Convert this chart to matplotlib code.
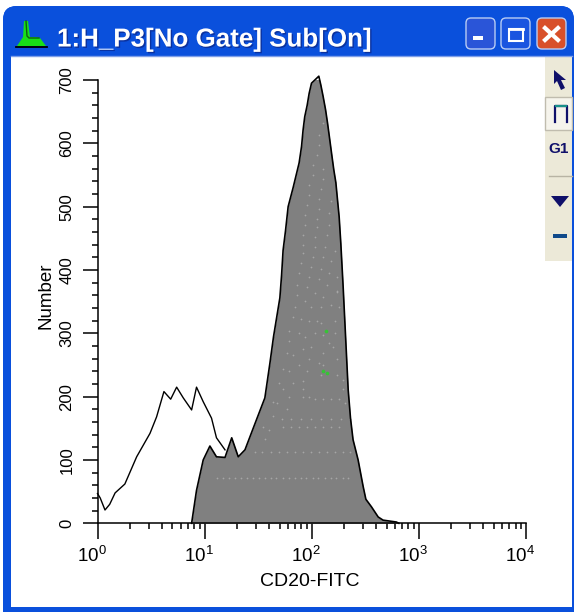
import matplotlib
matplotlib.use('Agg')
import matplotlib.pyplot as plt
import matplotlib.patheffects as pe
from matplotlib.patches import FancyBboxPatch, Rectangle, Polygon
from matplotlib.transforms import ScaledTranslation
import numpy as np

#Histogram values
open_x = [1.0, 1.06, 1.175, 1.3, 1.46, 1.8, 2.32, 3.09, 3.56, 4.17, 4.82, 5.48, 6.32, 7.56, 8.4, 9.7, 11.6, 12.9, 15.5]
open_y = [47, 40, 21, 30, 48, 62, 105, 142, 168, 208, 196, 215, 198, 179, 215, 192, 166, 135, 116]

fill_x = [7.56, 8.4, 9.7, 11.2, 12.9, 15.5, 17.9, 20.6, 23.8, 28.4, 36.5, 40.7, 44, 50.4, 52.3, 54, 56.9, 60.2, 67, 76.2,
          80.3, 83, 86, 90.6, 94.6, 99.5, 116.4, 121.6, 127.7, 134.6, 140.4, 147.5, 152.9, 160.7, 167.9, 173.9, 180.2,
          186.8, 196.3, 218.8, 230, 243, 271, 302, 320, 361, 417, 463, 617, 650]
fill_y = [0, 52, 100, 122, 105, 104, 135, 105, 116, 150, 198, 253, 295, 356, 392, 431, 462, 500, 530, 569,
          595, 621, 642, 660, 679, 695, 706, 692, 674, 653, 632, 605, 585, 558, 538, 511, 484,
          442, 374, 211, 166, 132, 100, 58, 38, 26, 10, 5, 2, 0]

#Faint dots inside the filled area (log10 of x, count)
dots_logx = [1.12, 1.17, 1.23, 1.28, 1.34, 1.40, 1.45, 1.51, 1.56, 1.62, 1.67, 1.73, 1.79, 1.84, 1.90, 1.95, 2.01, 2.06,
             2.12, 2.18, 2.23, 2.29, 2.34,
             1.47, 1.54, 1.62, 1.69, 1.77, 1.84, 1.92, 1.99, 2.07, 2.14, 2.22, 2.29, 2.36,
             1.73, 1.805, 1.88, 1.955, 2.03, 2.105, 2.18, 2.255,
             1.72, 1.81, 1.90, 1.99, 2.09, 2.18, 2.27, 2.36,
             1.640, 1.678, 1.771, 1.640, 1.547, 1.603, 1.566, 1.790, 1.920, 1.976, 2.032, 2.107, 2.181, 2.256, 2.309,
             1.734, 1.920, 2.293, 1.696, 1.827, 1.920, 2.293, 1.734, 1.790, 1.883, 1.958, 2.088, 2.237, 2.069, 2.107,
             2.237, 1.976, 1.771, 1.827, 1.920, 1.995, 2.107, 2.200, 2.163, 1.790, 1.939, 1.790, 1.883, 2.032, 2.219,
             2.107, 1.827, 1.902, 1.976, 2.051, 2.088, 2.219, 1.846, 1.995, 2.088, 2.181, 2.256, 1.939, 1.864, 2.032,
             2.107, 2.237,
             2.107, 2.069, 2.069, 2.051, 2.014, 2.107, 2.014, 2.107, 1.976, 2.088, 1.976, 2.069, 2.181, 1.958, 2.069,
             2.163, 1.939, 2.051, 1.939, 2.051, 2.163, 1.920, 2.032, 2.144, 1.920, 2.032, 2.125, 2.219, 1.920, 2.014,
             2.107, 2.181, 1.902, 1.995, 2.088, 1.883, 1.976, 2.069, 2.163, 2.237, 1.864, 1.958, 2.144, 2.237]
dots_y = [72] * 23 + [113] * 13 + [152] * 8 + [165] * 8 + [
          192, 190, 180, 170, 152, 148, 133, 199, 199, 199, 196, 196, 196, 196, 190,
          212, 212, 212, 221, 221, 224, 227, 243, 240, 250, 240, 234, 234, 253, 250,
          259, 259, 269, 265, 275, 278, 269, 278, 284, 288, 294, 303, 300, 300, 300,
          297, 325, 322, 319, 319, 316, 319, 341, 341, 341, 344, 341, 351, 360, 363,
          357, 367,
          632, 613, 597, 581, 565, 559, 550, 543, 534, 528, 518, 512, 509, 502, 496,
          490, 487, 480, 471, 468, 471, 455, 452, 455, 439, 436, 436, 430, 427, 420,
          420, 414, 411, 404, 401, 395, 389, 385, 395, 389, 376, 373, 376, 366]
green_logx = [2.129, 2.107, 2.144]
green_y = [303, 240, 237]

x_major = [1, 10, 100, 1000, 10000]
x_labels = ['10^{0}', '10^{1}', '10^{2}', '10^{3}', '10^{4}']
y_major = [0, 100, 200, 300, 400, 500, 600, 700]
title = '1:H_P3[No Gate] Sub[On]'

W, H = 574, 612
plt.rcParams['font.family'] = 'Liberation Sans'
plt.rcParams['mathtext.fontset'] = 'custom'
plt.rcParams['mathtext.rm'] = 'Liberation Sans'
plt.rcParams['mathtext.default'] = 'rm'

fig = plt.figure(figsize=(W / 100, H / 100), dpi=100, facecolor='white')

#Window frame, in pixels
bg = fig.add_axes([0, 0, 1, 1])
bg.set_axis_off()
frame = FancyBboxPatch((3, 6), W - 3, H, boxstyle='round,pad=0,rounding_size=14', fc='#0a50dc', ec='none')
bg.add_patch(frame)
grad = np.array([[0.03, 0.33, 0.88], [0.12, 0.42, 0.96], [0.0, 0.36, 0.93], [0.0, 0.33, 0.90], [0.0, 0.30, 0.84], [0.02, 0.27, 0.76]])
im = bg.imshow(grad[:, None, :], extent=[3, W, 56, 6], aspect='auto', interpolation='bilinear')
im.set_clip_path(frame)
bg.add_patch(Rectangle((3, 55), W, H, fc='#0a50dc', ec='none'))
bg.add_patch(Rectangle((11, 56), 561, 551, fc='white', ec='none'))
bg.plot([11, 572], [55.5, 55.5], color='#7f9fe8', lw=1)

#Title bar icon
bg.add_patch(Polygon([(24, 21), (28, 21), (30, 37), (36, 37), (40, 38), (46, 46), (17, 46), (23, 37)], fc='#18e018', ec='none'))
bg.plot([26, 27, 29, 35, 39], [21, 36, 38, 38, 38], color='#106010', lw=1)
bg.plot([16, 47], [46.5, 46.5], color='black', lw=1.3)

bg.text(57, 46.5, title, color='white', fontsize=18.7, fontweight='bold', va='baseline', ha='left',
        path_effects=[pe.withSimplePatchShadow(offset=(1, -1), shadow_rgbFace='#0a2a90', alpha=0.8)])

#Title bar buttons
for x0, fc in [(466, '#2a55d8'), (501, '#1a55e0'), (537, '#d8502a')]:
    bg.add_patch(FancyBboxPatch((x0, 18), 29, 31, boxstyle='round,pad=0,rounding_size=5', fc=fc, ec='#b8ccf4', lw=1))
bg.add_patch(Rectangle((473, 36), 10, 4, fc='white', ec='none'))
bg.add_patch(Rectangle((509, 29), 14, 12, fc='none', ec='white', lw=1.5))
bg.plot([509, 523], [29, 29], color='white', lw=2)
bg.plot([545, 558], [28, 40], color='white', lw=3)
bg.plot([558, 545], [28, 40], color='white', lw=3)

#Toolbar on the right
bg.add_patch(Rectangle((545, 56), 27, 205, fc='#ece9d8', ec='none'))
bg.add_patch(Rectangle((545, 97), 27, 33, fc='#f6f4ec', ec='#c0bcae', lw=1))
bg.add_patch(Polygon([(554, 70), (554, 84), (557, 81), (561, 90), (565, 88), (561, 80), (566, 80)], fc='#10106a', ec='none'))
bg.plot([555, 555, 567, 567], [122, 106, 106, 122], color='#10106a', lw=1.6)
bg.plot([556, 566], [106, 106], color='#18908a', lw=1.6)
bg.text(558.5, 149, 'G1', color='#10106a', fontsize=11, fontweight='bold', ha='center', va='center')
bg.plot([549, 572], [176, 176], color='#b8b4a4', lw=1)
bg.add_patch(Polygon([(551, 196), (569, 196), (560, 207)], fc='#10106a', ec='none'))
bg.add_patch(Rectangle((553, 233.5), 14, 4, fc='#104a8a', ec='none'))
bg.set_xlim(0, W)
bg.set_ylim(H, 0)

#Histogram axes
left, right, top, bottom = 97.5, 526, 80, 523.3
ax = fig.add_axes([left / W, 1 - bottom / H, (right - left) / W, (bottom - top) / H], facecolor='none')
ax.set_xscale('log')
ax.set_xlim(1, 10000)
ax.set_ylim(0, 700)

ax.fill_between(fill_x, fill_y, 0, color='#808080', lw=0, zorder=2)
ax.plot(fill_x, fill_y, color='black', lw=1.2, zorder=3, clip_on=False)
ax.scatter(10 ** np.array(dots_logx), dots_y, s=1.6, color='#a6a6a6', lw=0, zorder=2.5)
ax.scatter(10 ** np.array(green_logx), green_y, s=7, color='#35c435', lw=0, zorder=2.6)
ax.plot(open_x, open_y, color='black', lw=1, zorder=3, clip_on=False)

ax.spines['top'].set_visible(False)
ax.spines['right'].set_visible(False)
ax.spines['left'].set_linewidth(1.1)
ax.spines['bottom'].set_linewidth(1.1)

ax.set_xticks(x_major)
ax.set_xticklabels(['$' + s + '$' for s in x_labels], fontsize=13.5)
ax.xaxis.set_minor_locator(matplotlib.ticker.LogLocator(base=10, subs=range(2, 10), numticks=12))
ax.xaxis.set_minor_formatter(matplotlib.ticker.NullFormatter())
ax.set_yticks(y_major)
ax.set_yticklabels(y_major, rotation=90, va='center', fontsize=12)
ax.yaxis.set_minor_locator(matplotlib.ticker.MultipleLocator(20))
ax.tick_params(axis='x', which='major', length=11.5, width=1.1, pad=5)
ax.tick_params(axis='y', which='major', length=10.5, width=1.1, pad=6)
ax.tick_params(which='minor', length=4.5, width=1.1)

shift = ScaledTranslation(-6 / 100, 0, fig.dpi_scale_trans)
for lab in ax.get_xticklabels():
    lab.set_transform(lab.get_transform() + shift)

bg.text(46, 296, 'Number', rotation=90, fontsize=13.5, ha='center', va='center', color='black')
bg.text(310, 582, 'CD20-FITC', fontsize=14, ha='center', va='center', color='black')

fig.savefig('out.png', dpi=100)
